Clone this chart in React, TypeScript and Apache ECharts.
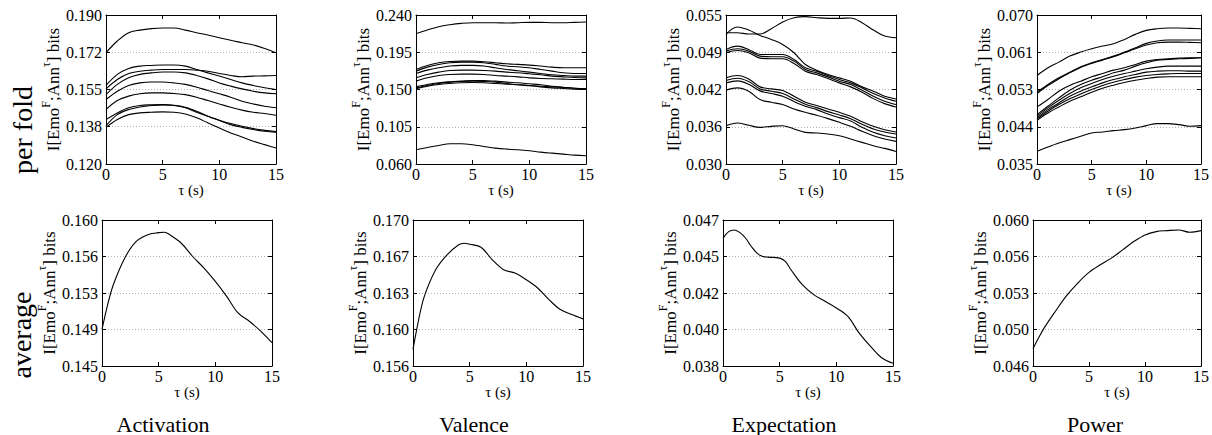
import React, { useEffect, useRef } from "react";
import * as echarts from "echarts";

// ---------------- data ----------------
const TAU = [0, 1, 2, 3, 4, 5, 6, 7, 8, 9, 10, 11, 12, 13, 14, 15];
const EMOTIONS = ["Activation", "Valence", "Expectation", "Power"];
const ROW_LABELS = ["per fold", "average"];
const X_AXIS_NAME = "τ (s)";

// Activation, per fold
const ACT_FOLD_TICKS = [0.12, 0.1375, 0.155, 0.1725, 0.19];
const ACT_FOLD_LABELS = ["0.120", "0.138", "0.155", "0.172", "0.190"];
const ACT_FOLDS = [
  [0.1723, 0.1778, 0.1817, 0.1829, 0.1836, 0.1839, 0.1839, 0.1829, 0.1817, 0.1806, 0.1793, 0.1781, 0.177, 0.1759, 0.1743, 0.1723],
  [0.1569, 0.1621, 0.1649, 0.166, 0.1663, 0.1665, 0.1665, 0.166, 0.1644, 0.1628, 0.1613, 0.1597, 0.1581, 0.1569, 0.1558, 0.155],
  [0.1553, 0.1597, 0.1625, 0.1636, 0.1641, 0.1644, 0.1644, 0.1644, 0.1641, 0.1636, 0.1625, 0.1616, 0.161, 0.1613, 0.1614, 0.1616],
  [0.1526, 0.1574, 0.1605, 0.1621, 0.1628, 0.1632, 0.1632, 0.1628, 0.1616, 0.16, 0.1581, 0.1566, 0.1553, 0.1542, 0.1534, 0.153],
  [0.1503, 0.1542, 0.1569, 0.1581, 0.1585, 0.1585, 0.1581, 0.1574, 0.1561, 0.1545, 0.153, 0.1514, 0.1495, 0.1482, 0.1471, 0.1464],
  [0.1456, 0.1498, 0.1519, 0.153, 0.1534, 0.1534, 0.1531, 0.1526, 0.1514, 0.1498, 0.1482, 0.1467, 0.1453, 0.1443, 0.1437, 0.1429],
  [0.1409, 0.144, 0.1464, 0.1475, 0.1478, 0.1479, 0.1475, 0.1464, 0.1443, 0.1424, 0.1406, 0.139, 0.1377, 0.1366, 0.1358, 0.1352],
  [0.138, 0.1432, 0.1456, 0.1468, 0.1475, 0.1478, 0.1476, 0.1467, 0.1448, 0.1424, 0.1404, 0.1385, 0.1372, 0.1362, 0.1354, 0.1349],
  [0.1372, 0.1409, 0.1432, 0.144, 0.1443, 0.1445, 0.1443, 0.1435, 0.1417, 0.1393, 0.1369, 0.1346, 0.1327, 0.1307, 0.1291, 0.1275],
];

// Valence, per fold
const VAL_FOLD_TICKS = [0.06, 0.105, 0.15, 0.195, 0.24];
const VAL_FOLD_LABELS = ["0.060", "0.105", "0.150", "0.195", "0.240"];
const VAL_FOLDS = [
  [0.2174, 0.2218, 0.2259, 0.2283, 0.2299, 0.2307, 0.2307, 0.2307, 0.2303, 0.2307, 0.2311, 0.2311, 0.2307, 0.2307, 0.2311, 0.2315],
  [0.1742, 0.1791, 0.1823, 0.1839, 0.1843, 0.1843, 0.1835, 0.1823, 0.1811, 0.1803, 0.1795, 0.1783, 0.177, 0.1762, 0.1762, 0.1762],
  [0.1722, 0.177, 0.1803, 0.1823, 0.1831, 0.1831, 0.1823, 0.1803, 0.1783, 0.1774, 0.1762, 0.1742, 0.1722, 0.1702, 0.1694, 0.1694],
  [0.1694, 0.1734, 0.1762, 0.1783, 0.1791, 0.1791, 0.1783, 0.1762, 0.1742, 0.1726, 0.171, 0.1694, 0.1678, 0.167, 0.1662, 0.1662],
  [0.1641, 0.1682, 0.171, 0.173, 0.1734, 0.1734, 0.173, 0.1722, 0.171, 0.1702, 0.169, 0.1678, 0.1662, 0.1653, 0.1645, 0.1641],
  [0.1601, 0.1641, 0.167, 0.1682, 0.1686, 0.1686, 0.1682, 0.167, 0.1662, 0.1653, 0.1641, 0.1633, 0.1629, 0.1625, 0.1621, 0.1621],
  [0.1532, 0.1561, 0.1581, 0.1593, 0.1601, 0.1609, 0.1609, 0.1601, 0.1589, 0.1581, 0.1569, 0.1557, 0.154, 0.1528, 0.1516, 0.1508],
  [0.152, 0.1549, 0.1573, 0.1589, 0.1597, 0.1601, 0.1597, 0.1589, 0.1573, 0.1557, 0.1545, 0.1532, 0.152, 0.1512, 0.1504, 0.15],
  [0.1508, 0.154, 0.1561, 0.1573, 0.1581, 0.1585, 0.1581, 0.1573, 0.1565, 0.1557, 0.1549, 0.154, 0.1532, 0.1524, 0.1516, 0.1508],
  [0.0772, 0.08, 0.0824, 0.0845, 0.0845, 0.0833, 0.0812, 0.0792, 0.078, 0.0772, 0.076, 0.0744, 0.0731, 0.0719, 0.0707, 0.0699],
];

// Expectation, per fold
const EXP_FOLD_TICKS = [0.03, 0.03625, 0.0425, 0.04875, 0.055];
const EXP_FOLD_LABELS = ["0.030", "0.036", "0.042", "0.049", "0.055"];
const EXP_FOLDS = [
  [0.05203, 0.05203, 0.0518, 0.0518, 0.0527, 0.05382, 0.05455, 0.05472, 0.05455, 0.05444, 0.05444, 0.0545, 0.05371, 0.05248, 0.05147, 0.05119],
  [0.05175, 0.05298, 0.05248, 0.05158, 0.0509, 0.05006, 0.04866, 0.0467, 0.04574, 0.04501, 0.04445, 0.04389, 0.04294, 0.04221, 0.04137, 0.04092],
  [0.04922, 0.04978, 0.04922, 0.04838, 0.04838, 0.04838, 0.04754, 0.04614, 0.04558, 0.04485, 0.04417, 0.04361, 0.04277, 0.04182, 0.04109, 0.04053],
  [0.04894, 0.04933, 0.04894, 0.0481, 0.04799, 0.04799, 0.04726, 0.04586, 0.04529, 0.04462, 0.04389, 0.04333, 0.04238, 0.04137, 0.04053, 0.03997],
  [0.04866, 0.04905, 0.04866, 0.04776, 0.04765, 0.04765, 0.04687, 0.04558, 0.04501, 0.04434, 0.04361, 0.04294, 0.04204, 0.04097, 0.04013, 0.03957],
  [0.04445, 0.04485, 0.04428, 0.04294, 0.0426, 0.04232, 0.04137, 0.04036, 0.0398, 0.03924, 0.03867, 0.038, 0.0371, 0.03632, 0.03576, 0.03537],
  [0.044, 0.0444, 0.04384, 0.0426, 0.04221, 0.04182, 0.04092, 0.04002, 0.03946, 0.03879, 0.03823, 0.03761, 0.03666, 0.03587, 0.03537, 0.03503],
  [0.04361, 0.04395, 0.04339, 0.04227, 0.04182, 0.04137, 0.04047, 0.03968, 0.03912, 0.03839, 0.03778, 0.03722, 0.03615, 0.03531, 0.03475, 0.03436],
  [0.04238, 0.04277, 0.04221, 0.04081, 0.04036, 0.03997, 0.03924, 0.03867, 0.03817, 0.03761, 0.03699, 0.03632, 0.03548, 0.03475, 0.03419, 0.03379],
  [0.03643, 0.03688, 0.03649, 0.03615, 0.03632, 0.03643, 0.03587, 0.03531, 0.0352, 0.03503, 0.03475, 0.03419, 0.03363, 0.03307, 0.03262, 0.03211],
];

// Power, per fold
const POW_FOLD_TICKS = [0.035, 0.04375, 0.0525, 0.06125, 0.07];
const POW_FOLD_LABELS = ["0.035", "0.044", "0.053", "0.061", "0.070"];
const POW_FOLDS = [
  [0.05579, 0.0576, 0.05893, 0.06034, 0.06129, 0.06207, 0.0627, 0.06325, 0.06427, 0.06545, 0.06639, 0.06678, 0.06694, 0.06694, 0.06686, 0.06678],
  [0.05187, 0.05367, 0.05524, 0.05658, 0.05783, 0.05877, 0.05956, 0.06034, 0.06129, 0.06231, 0.06333, 0.06388, 0.06411, 0.06411, 0.06411, 0.06411],
  [0.05155, 0.05344, 0.05501, 0.05642, 0.05768, 0.05862, 0.0594, 0.06019, 0.06113, 0.06207, 0.06294, 0.06348, 0.06364, 0.06364, 0.06356, 0.06348],
  [0.04841, 0.05014, 0.0521, 0.05344, 0.05446, 0.05548, 0.05626, 0.05705, 0.0576, 0.05838, 0.05917, 0.05956, 0.05972, 0.05987, 0.05995, 0.05995],
  [0.04661, 0.04857, 0.05053, 0.05234, 0.05367, 0.05469, 0.05548, 0.05642, 0.05705, 0.05799, 0.05877, 0.0594, 0.05956, 0.05972, 0.0598, 0.05995],
  [0.04621, 0.04818, 0.04998, 0.05155, 0.05289, 0.05391, 0.05485, 0.05563, 0.05626, 0.05681, 0.05736, 0.05775, 0.05799, 0.05799, 0.05799, 0.05799],
  [0.04582, 0.04778, 0.04935, 0.05092, 0.0521, 0.05312, 0.05406, 0.05485, 0.05548, 0.05603, 0.05658, 0.05681, 0.05689, 0.05689, 0.05681, 0.05681],
  [0.04559, 0.04739, 0.04896, 0.0503, 0.05147, 0.0525, 0.05344, 0.05422, 0.05485, 0.0554, 0.05579, 0.05603, 0.05618, 0.05626, 0.05626, 0.05626],
  [0.04527, 0.047, 0.04841, 0.04975, 0.05077, 0.05187, 0.05281, 0.05352, 0.05414, 0.05469, 0.05509, 0.0554, 0.05548, 0.05548, 0.05548, 0.05548],
  [0.03797, 0.03899, 0.03993, 0.04072, 0.0415, 0.04229, 0.04252, 0.04284, 0.04308, 0.04347, 0.04402, 0.04449, 0.04449, 0.04425, 0.04386, 0.04402],
];

// Averages
const ACT_AVG_TICKS = [0.145, 0.14875, 0.1525, 0.15625, 0.16];
const ACT_AVG_LABELS = ["0.145", "0.149", "0.153", "0.156", "0.160"];
const ACT_AVG_X = [0, 0.5, 1, 2, 3, 4, 5, 5.5, 6, 7, 8, 9, 10, 11, 12, 13, 14, 15];
const ACT_AVG = [0.14875, 0.15131, 0.15335, 0.15608, 0.15778, 0.15847, 0.1587, 0.15874, 0.15847, 0.15761, 0.15625, 0.15506, 0.15369, 0.15216, 0.15045, 0.1496, 0.14858, 0.14739];

const VAL_AVG_TICKS = [0.156, 0.1595, 0.163, 0.1665, 0.17];
const VAL_AVG_LABELS = ["0.156", "0.160", "0.163", "0.167", "0.170"];
const VAL_AVG_X = [0, 0.5, 1, 2, 3, 4, 4.5, 5, 6, 7, 8, 9, 10, 11, 12, 13, 14, 15];
const VAL_AVG = [0.15759, 0.16045, 0.16268, 0.16523, 0.16666, 0.16761, 0.16777, 0.16768, 0.16739, 0.16618, 0.16523, 0.16491, 0.16427, 0.16348, 0.16236, 0.16141, 0.16093, 0.16052];

const EXP_AVG_TICKS = [0.038, 0.04025, 0.0425, 0.04475, 0.047];
const EXP_AVG_LABELS = ["0.038", "0.040", "0.042", "0.045", "0.047"];
const EXP_AVG_X = [0, 0.5, 1, 1.5, 2, 2.5, 3, 3.5, 4, 5, 5.5, 6, 7, 8, 9, 10, 11, 12, 13, 14, 15];
const EXP_AVG = [0.045875, 0.046284, 0.046386, 0.046223, 0.045875, 0.045364, 0.044955, 0.04475, 0.04471, 0.044648, 0.044443, 0.043932, 0.043011, 0.042398, 0.041989, 0.04158, 0.041068, 0.040045, 0.039227, 0.038511, 0.038164];

const POW_AVG_TICKS = [0.046, 0.0495, 0.053, 0.0565, 0.06];
const POW_AVG_LABELS = ["0.046", "0.050", "0.053", "0.056", "0.060"];
const POW_AVG_X = [0, 0.5, 1, 2, 3, 4, 5, 6, 7, 8, 9, 10, 11, 12, 13, 14, 15];
const POW_AVG = [0.047655, 0.048705, 0.049659, 0.05125, 0.052746, 0.053955, 0.054973, 0.055705, 0.056341, 0.057136, 0.057932, 0.058568, 0.058886, 0.058982, 0.059045, 0.058823, 0.058982];

// ---------------- layout ----------------
const FONT = "Liberation Serif";
const ROW_TOP = [15, 220];
const ROW_HEIGHT = [149, 146];
const ROW_LEFTS = [
  [106, 416, 726, 1037],
  [102, 413, 723, 1033],
];
const PANEL_WIDTH = 170;

type Panel = {
  row: number;
  col: number;
  ticks: number[];
  labels: string[];
  lines: { x: number[]; y: number[] }[];
};

const PANELS: Panel[] = [
  { row: 0, col: 0, ticks: ACT_FOLD_TICKS, labels: ACT_FOLD_LABELS, lines: ACT_FOLDS.map((y) => ({ x: TAU, y })) },
  { row: 0, col: 1, ticks: VAL_FOLD_TICKS, labels: VAL_FOLD_LABELS, lines: VAL_FOLDS.map((y) => ({ x: TAU, y })) },
  { row: 0, col: 2, ticks: EXP_FOLD_TICKS, labels: EXP_FOLD_LABELS, lines: EXP_FOLDS.map((y) => ({ x: TAU, y })) },
  { row: 0, col: 3, ticks: POW_FOLD_TICKS, labels: POW_FOLD_LABELS, lines: POW_FOLDS.map((y) => ({ x: TAU, y })) },
  { row: 1, col: 0, ticks: ACT_AVG_TICKS, labels: ACT_AVG_LABELS, lines: [{ x: ACT_AVG_X, y: ACT_AVG }] },
  { row: 1, col: 1, ticks: VAL_AVG_TICKS, labels: VAL_AVG_LABELS, lines: [{ x: VAL_AVG_X, y: VAL_AVG }] },
  { row: 1, col: 2, ticks: EXP_AVG_TICKS, labels: EXP_AVG_LABELS, lines: [{ x: EXP_AVG_X, y: EXP_AVG }] },
  { row: 1, col: 3, ticks: POW_AVG_TICKS, labels: POW_AVG_LABELS, lines: [{ x: POW_AVG_X, y: POW_AVG }] },
];

function buildOption() {
  const grid: any[] = [];
  const xAxis: any[] = [];
  const yAxis: any[] = [];
  const series: any[] = [];
  const axisLine = { show: true, onZero: false, lineStyle: { color: "#000", width: 1 } };
  const tick = { show: true, inside: true, length: 4, lineStyle: { color: "#000", width: 1 } };

  PANELS.forEach((p, i) => {
    grid.push({
      left: ROW_LEFTS[p.row][p.col],
      top: ROW_TOP[p.row],
      width: PANEL_WIDTH,
      height: ROW_HEIGHT[p.row],
    });
    const ymin = p.ticks[0];
    const ymax = p.ticks[p.ticks.length - 1];
    const inner = p.ticks.slice(1, -1);
    xAxis.push({
      type: "value",
      gridIndex: i,
      min: 0,
      max: 15,
      interval: 5,
      position: "bottom",
      axisLine,
      axisTick: tick,
      splitLine: { show: false },
      axisLabel: { color: "#000", fontFamily: FONT, fontSize: 16, margin: 2 },
      name: X_AXIS_NAME,
      nameLocation: "middle",
      nameGap: 17,
      nameTextStyle: { color: "#000", fontFamily: FONT, fontSize: 15 },
    });
    xAxis.push({
      type: "value",
      gridIndex: i,
      min: 0,
      max: 15,
      interval: 5,
      position: "top",
      axisLine,
      axisTick: tick,
      splitLine: { show: false },
      axisLabel: { show: false },
    });
    const labels = p.labels;
    const ticks = p.ticks;
    yAxis.push({
      type: "value",
      gridIndex: i,
      min: ymin,
      max: ymax,
      position: "left",
      axisLine,
      axisTick: { ...tick, customValues: ticks },
      splitLine: { show: false },
      axisLabel: {
        color: "#000",
        fontFamily: FONT,
        fontSize: 16,
        margin: 4,
        customValues: ticks,
        formatter: (v: number) => {
          let best = 0;
          ticks.forEach((t, k) => {
            if (Math.abs(t - v) < Math.abs(ticks[best] - v)) best = k;
          });
          return labels[best];
        },
      },
      name: "{n|I[Emo}{s|F}{n|;Ann}{s|τ}{n|] bits}",
      nameLocation: "middle",
      nameGap: 41,
      nameTextStyle: {
        color: "#000",
        fontFamily: FONT,
        fontSize: 17,
        rich: {
          n: { fontFamily: FONT, fontSize: 17, color: "#000", lineHeight: 22, verticalAlign: "bottom" },
          s: { fontFamily: FONT, fontSize: 12, color: "#000", lineHeight: 22, verticalAlign: "top" },
        },
      },
    });
    yAxis.push({
      type: "value",
      gridIndex: i,
      min: ymin,
      max: ymax,
      position: "right",
      axisLine,
      axisTick: { ...tick, customValues: inner },
      axisLabel: { show: false },
      splitLine: { show: true, lineStyle: { color: "#b0b0b0", width: 1, type: [1, 2] } },
    });
    p.lines.forEach((ln) => {
      series.push({
        type: "line",
        xAxisIndex: 2 * i,
        yAxisIndex: 2 * i,
        data: ln.x.map((x, k) => [x, ln.y[k]]),
        showSymbol: false,
        smooth: 0.35,
        lineStyle: { color: "#000", width: 1.1 },
        silent: true,
        z: 3,
      });
    });
  });

  const graphic: any[] = [];
  const rowCenters = [
    { x: 22, y: 130 },
    { x: 21, y: 335 },
  ];
  ROW_LABELS.forEach((t, r) => {
    graphic.push({
      type: "text",
      x: rowCenters[r].x,
      y: rowCenters[r].y,
      rotation: Math.PI / 2,
      style: {
        text: t,
        fill: "#000",
        font: `28px ${FONT}`,
        align: "center",
        verticalAlign: "middle",
      },
    });
  });
  const titleX = [163, 474, 784, 1095];
  EMOTIONS.forEach((t, c) => {
    graphic.push({
      type: "text",
      x: titleX[c],
      y: 424,
      style: {
        text: t,
        fill: "#000",
        font: `22px ${FONT}`,
        align: "center",
        verticalAlign: "middle",
      },
    });
  });

  return {
    animation: false,
    backgroundColor: "#fff",
    grid,
    xAxis,
    yAxis,
    series,
    graphic,
  };
}

export default function App() {
  const ref = useRef<HTMLDivElement>(null);
  useEffect(() => {
    if (!ref.current) return;
    const chart = echarts.init(ref.current, null, { renderer: "svg" });
    chart.setOption(buildOption());
    return () => chart.dispose();
  }, []);
  return (
    <div
      ref={ref}
      style={{ position: "fixed", left: 0, top: 0, width: 1212, height: 435, background: "#fff" }}
    />
  );
}
